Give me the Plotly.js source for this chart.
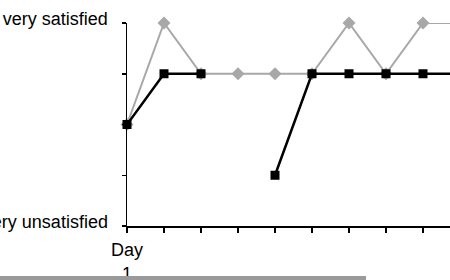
<!DOCTYPE html>
<html>
<head>
<meta charset="utf-8">
<script src="https://cdn.plot.ly/plotly-3.0.1.min.js"></script>
<style>
html,body{margin:0;padding:0;width:450px;height:280px;overflow:hidden;background:#fff;}
#chart{position:absolute;left:0;top:0;}
#bar{position:absolute;left:0;top:276px;width:366px;height:4px;background:#9a9a9a;}
</style>
</head>
<body>
<div id="chart"></div>
<div id="bar"></div>
<script>
const days = [1, 2, 3, 4, 5, 6, 7, 8, 9, 10, 11];
const seriesGray = [3, 5, 4, 4, 4, 4, 5, 4, 5, 5, 5];
const seriesBlack = [3, 4, 4, null, 2, 4, 4, 4, 4, 4, 4];
const yTickVals = [1, 2, 3, 4, 5];
const yTickText = ["very unsatisfied", "", "", "", "very satisfied"];
const xTickVals = [1, 2, 3, 4, 5, 6, 7, 8, 9, 10, 11, 12];
const xTickText = ["Day<br>1", "", "", "", "", "", "", "", "", "", "", ""];

const traces = [
  {
    x: days, y: seriesGray, type: 'scatter', mode: 'lines+markers',
    line: {color: '#a8a8a8', width: 2},
    marker: {symbol: 'diamond', size: 10, color: '#a8a8a8'},
    cliponaxis: false, connectgaps: false
  },
  {
    x: days, y: seriesBlack, type: 'scatter', mode: 'lines+markers',
    line: {color: '#000000', width: 2.5},
    marker: {symbol: 'square', size: 9, color: '#000000'},
    cliponaxis: false, connectgaps: false
  }
];

const layout = {
  width: 581, height: 280,
  margin: {l: 127, r: 10, t: 23, b: 54},
  showlegend: false,
  paper_bgcolor: '#ffffff', plot_bgcolor: '#ffffff',
  font: {family: 'Liberation Sans, Arial, sans-serif', size: 18, color: '#000'},
  xaxis: {
    range: [1, 13], tickvals: xTickVals, ticktext: xTickText,
    showgrid: false, zeroline: false, showline: true, linecolor: '#000', linewidth: 1.5,
    ticks: 'outside', ticklen: 5, tickwidth: 1.5, tickcolor: '#000',
    tickfont: {size: 18}, ticklabelstandoff: 2
  },
  yaxis: {
    range: [1, 5], tickvals: yTickVals, ticktext: yTickText,
    showgrid: false, zeroline: false, showline: true, linecolor: '#000', linewidth: 1.5,
    ticks: 'outside', ticklen: 4, tickwidth: 1.5, tickcolor: '#000',
    tickfont: {size: 18}, ticklabelstandoff: 10, ticklabelshift: -4
  }
};

Plotly.newPlot('chart', traces, layout, {staticPlot: true, displayModeBar: false});
</script>
</body>
</html>
